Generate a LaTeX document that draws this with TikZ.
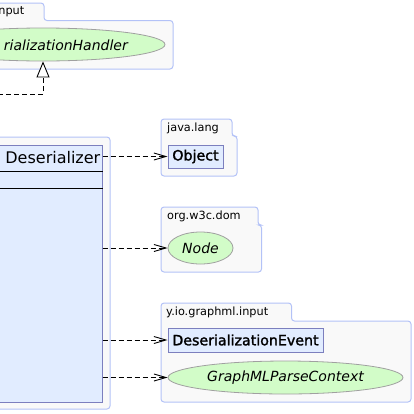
\documentclass[tikz,border=0pt]{standalone}
\usepackage{fontspec}
\setmainfont{DejaVu Sans}
\newfontfamily\bstr{DejaVu Sans}[FakeBold=1.6]
\usetikzlibrary{arrows.meta,shapes.geometric}
\definecolor{pkgfill}{HTML}{F9F9F9}
\definecolor{pkgline}{HTML}{B3C2F7}
\definecolor{clsfill}{HTML}{E1ECFF}
\definecolor{clsline}{HTML}{7C7FBE}
\definecolor{ifill}{HTML}{D2FCC8}
\definecolor{iline}{HTML}{A0A0A0}
\tikzset{
  pkg/.style={draw=pkgline, fill=pkgfill, line width=1pt, rounded corners=3pt},
  pkglabel/.style={font=\fontsize{11.3}{12}\selectfont, anchor=west, inner sep=0pt},
  cls/.style={draw=clsline, fill=clsfill, line width=1pt, rectangle, inner sep=0pt},
  clstext/.style={font=\bstr\fontsize{14.2}{16}\selectfont},
  iface/.style={draw=iline, fill=ifill, line width=0.8pt, ellipse, inner sep=0pt},
  dep/.style={draw=black, line width=0.9pt, dash pattern=on 5pt off 3pt, -{Straight Barb[length=12pt,width=7pt]}},
  realize/.style={draw=black, line width=0.9pt, dash pattern=on 5pt off 3pt, -{Triangle[open,length=16pt,width=13pt,fill=white]}}
}
\begin{document}
\begin{tikzpicture}[x=1pt,y=-1pt]
\useasboundingbox (0,0) rectangle (414,413);
\clip (0,0) rectangle (414,413);
% top package (cut off at the left)
\path[pkg] (-30,69) -- (-30,3) -- (44,3) -- (44,20.5) -- (173,20.5) -- (173,69) -- cycle;
\node[pkglabel, anchor=east] (toplabel) at (24.5,12) {nput};
\node[iface, minimum width=244pt, minimum height=33pt] (handler) at (43,44.5) {};
\node[font=\fontsize{14}{16}\selectfont\itshape, anchor=east, inner sep=0pt] (handlertext) at (128,45) {rializationHandler};
% main package and class
\path[pkg] (-30,137) rectangle (110,409);
\node[cls, minimum width=122pt, minimum height=257pt] (des) at (41,273.5) {};
\draw[black, line width=0.8pt] (-30,171.5) -- (des.east |- 0,171.5);
\draw[black, line width=0.8pt] (-30,188) -- (des.east |- 0,188);
\node[font=\fontsize{16}{18}\selectfont, anchor=east, inner sep=0pt] (destext) at (100.5,157.5) {Deserializer};
% java.lang
\path[pkg] (161,176) -- (161,119) -- (232,119) -- (232,136) -- (237,136) -- (237,176) -- cycle;
\node[pkglabel] (javalabel) at (167,128) {java.lang};
\node[cls, clstext, minimum width=55pt, minimum height=23pt] (obj) at (195.5,156.5) {Object};
% org.w3c.dom
\path[pkg] (161,272) -- (161,207) -- (258,207) -- (258,225) -- (261.5,225) -- (261.5,272) -- cycle;
\node[pkglabel] (domlabel) at (167,216) {org.w3c.dom};
\node[iface, minimum width=65pt, minimum height=32pt, font=\fontsize{14}{16}\selectfont\itshape] (node) at (200.5,248) {Node};
% y.io.graphml.input
\path[pkg] (161,402) -- (161,303) -- (291.5,303) -- (291.5,321) -- (411,321) -- (411,402) -- cycle;
\node[pkglabel] (inlabel) at (166,312) {y.io.graphml.input};
\node[cls, clstext, minimum width=155pt, minimum height=24pt] (evt) at (245.5,340) {DeserializationEvent};
\node[iface, minimum width=235pt, minimum height=33pt, font=\fontsize{14}{16}\selectfont\itshape] (ctx) at (285.5,377.5) {GraphMLParseContext};
% connectors
\coordinate (src) at (-10,94);
\draw[realize] (src) -- (43,94) -- (handler.south);
\draw[dep] (des.east |- obj.west) -- (obj.west);
\draw[dep] (des.east |- node.west) -- (node.west);
\draw[dep] (des.east |- evt.west) -- (evt.west);
\draw[dep] (des.east |- ctx.west) -- (ctx.west);
\end{tikzpicture}
\end{document}
